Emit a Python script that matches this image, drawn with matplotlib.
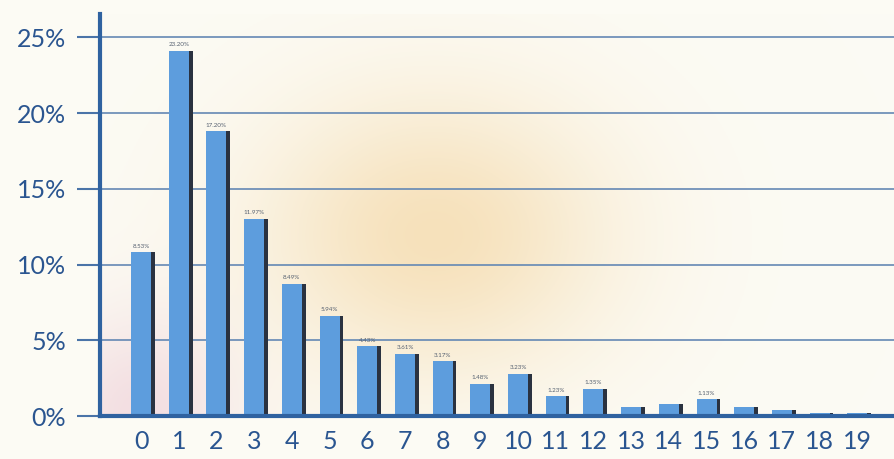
import numpy as np
import matplotlib
matplotlib.use("Agg")
import matplotlib.pyplot as plt

categories = [str(i) for i in range(20)]
values = [10.8, 24.1, 18.8, 13.0, 8.7, 6.6, 4.6, 4.1, 3.6, 2.1,
          2.8, 1.3, 1.8, 0.6, 0.8, 1.1, 0.6, 0.4, 0.2, 0.2]
bar_labels = ["8.53%", "23.20%", "17.20%", "11.97%", "8.49%", "5.94%", "4.43%",
              "3.61%", "3.17%", "1.48%", "3.23%", "1.23%", "1.35%", "", "", "1.13%",
              "", "", "", ""]
yticks = [0, 5, 10, 15, 20, 25]
ytick_labels = ["0%", "5%", "10%", "15%", "20%", "25%"]

W, H = 895, 459
fig = plt.figure(figsize=(W / 100, H / 100), dpi=100)
fig.patch.set_facecolor("#fcfbf4")
ax = fig.add_axes([100 / W, (H - 416) / H, 795 / W, 402 / H])
ax.set_facecolor("#fcfbf4")

xlim = (-1.09, 20.0)
ylim = (0, 26.55)

# soft background gradient
nx, ny = 400, 200
gx, gy = np.meshgrid(np.linspace(0, 1, nx), np.linspace(1, 0, ny))
base = np.array([0.988, 0.984, 0.957])
warm = np.array([0.96, 0.85, 0.66])
pink = np.array([0.93, 0.80, 0.84])
blob = np.exp(-(((gx - 0.42) / 0.22) ** 2 + ((gy - 0.45) / 0.35) ** 2))
blob2 = np.exp(-(((gx - 0.05) / 0.12) ** 2 + ((gy - 0.0) / 0.25) ** 2))
img = base[None, None, :] * np.ones((ny, nx, 1))
img = img * (1 - 0.75 * blob[..., None]) + warm[None, None, :] * 0.75 * blob[..., None]
img = img * (1 - 0.6 * blob2[..., None]) + pink[None, None, :] * 0.6 * blob2[..., None]
ax.imshow(img, extent=(xlim[0], xlim[1], ylim[0], ylim[1]), aspect="auto", zorder=0)

x = np.arange(len(categories))
bw = 0.53
ax.bar(x + 0.1, values, width=bw, color="#2a3240", zorder=2, align="center")
ax.bar(x, values, width=bw, color="#5d9ddd", zorder=3)

for xi, v, lab in zip(x, values, bar_labels):
    if lab:
        ax.text(xi, v + 0.25, lab, ha="center", va="bottom", fontsize=4.5,
                color="#556070", zorder=4, family="Lato")

ax.set_xlim(*xlim)
ax.set_ylim(*ylim)
ax.set_yticks(yticks)
ax.set_yticklabels(ytick_labels)
ax.set_xticks(x)
ax.set_xticklabels(categories)

axis_color = "#2f62a0"
for yt in yticks[1:]:
    ax.axhline(yt, color="#6488b4", lw=1.2, zorder=1)

for s in ["top", "right"]:
    ax.spines[s].set_visible(False)
ax.spines["left"].set_color(axis_color)
ax.spines["left"].set_linewidth(3)
ax.spines["bottom"].set_color(axis_color)
ax.spines["bottom"].set_linewidth(3)
ax.spines["left"].set_zorder(5)
ax.spines["bottom"].set_zorder(5)

ax.tick_params(axis="y", length=16.5, width=1.5, color="#4a74a8", pad=8,
               labelcolor="#2a5590", labelsize=18)
ax.tick_params(axis="x", length=0, pad=10, labelcolor="#2a5590", labelsize=18)
for t in ax.get_xticklabels() + ax.get_yticklabels():
    t.set_family("Lato")

fig.savefig("out.png", dpi=100, facecolor=fig.get_facecolor())
